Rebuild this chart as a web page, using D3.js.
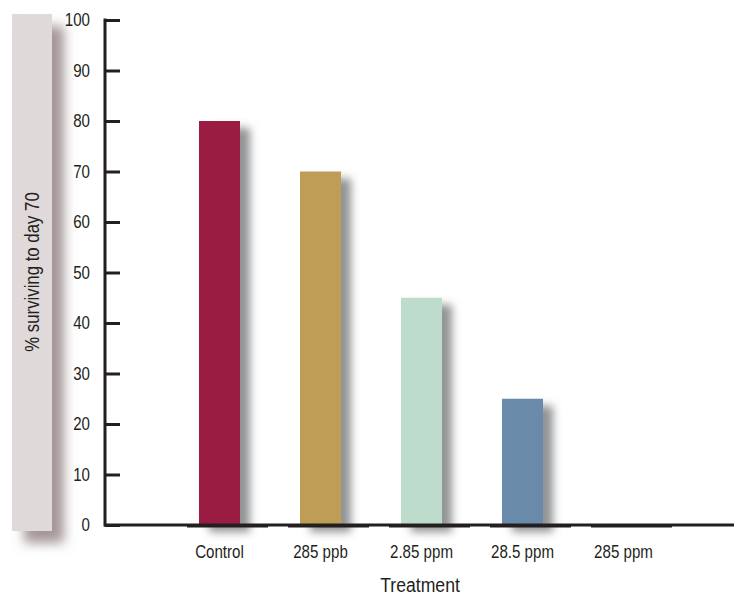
<!DOCTYPE html>
<html><head><meta charset="utf-8">
<script src="https://cdn.jsdelivr.net/npm/d3@7"></script>
<style>
body{margin:0;background:#fff;}
text{font-family:"Liberation Sans","Arial",sans-serif;fill:#231f20;}
</style></head>
<body><svg id="c" width="734" height="596"></svg>
<script>
const categories = ["Control","285 ppb","2.85 ppm","28.5 ppm","285 ppm"];
const values = [80,70,45,25,0];
const colors = ["#9b1c42","#be9d56","#bddccb","#6b8aaa","#6b8aaa"];
const yTicks = [0,10,20,30,40,50,60,70,80,90,100];
const SX = 0.84;

const svg = d3.select("#c");
const defs = svg.append("defs");
const f = defs.append("filter").attr("id","sh").attr("x","-50%").attr("y","-50%").attr("width","250%").attr("height","200%");
f.append("feDropShadow").attr("dx",10).attr("dy",7).attr("stdDeviation",4).attr("flood-color","#6d6e72").attr("flood-opacity",0.75);
const f2 = defs.append("filter").attr("id","sh2").attr("x","-50%").attr("y","-20%").attr("width","250%").attr("height","150%");
f2.append("feDropShadow").attr("dx",12).attr("dy",12).attr("stdDeviation",6).attr("flood-color","#9a8a8a").attr("flood-opacity",0.9);

// y-label panel
svg.append("rect").attr("x",12).attr("y",14).attr("width",40).attr("height",517)
  .attr("fill","#dfd9da").attr("filter","url(#sh2)");
svg.append("text").attr("transform",`translate(39,272) rotate(-90) scale(${SX},1)`)
  .attr("text-anchor","middle").attr("font-size",20).text("% surviving to day 70");

const y = d3.scaleLinear().domain([0,100]).range([525,20]);
const x = d3.scaleBand().domain(categories).range([169,674]).paddingInner(0.594).paddingOuter(0.297);

// bars
svg.append("g").selectAll("rect").data(values).join("rect")
  .attr("x",(d,i)=>x(categories[i])).attr("y",d=>y(d))
  .attr("width",x.bandwidth()).attr("height",d=>y(0)-y(d))
  .attr("fill",(d,i)=>colors[i]).attr("filter","url(#sh)");

// shadow under 285 ppm (zero bar)
svg.append("rect").attr("x",x(categories[4])).attr("y",y(0)-1).attr("width",x.bandwidth()).attr("height",2)
  .attr("fill","#fff").attr("filter","url(#sh)");

// y axis
const yAxis = d3.axisLeft(y).tickValues(yTicks).tickSize(0).tickPadding(15);
const gy = svg.append("g").attr("transform","translate(105,0)").call(yAxis);
gy.select(".domain").remove();
gy.selectAll("text").attr("font-size",18).attr("fill","#231f20").attr("font-family",null)
  .attr("x",-15/SX).attr("transform",`scale(${SX},1)`);
gy.selectAll(".tick").append("line").attr("x1",0).attr("x2",15).attr("stroke","#231f20").attr("stroke-width",3);
svg.append("line").attr("x1",105).attr("x2",105).attr("y1",18.5).attr("y2",526.5).attr("stroke","#231f20").attr("stroke-width",3);

// x axis
svg.append("line").attr("x1",104).attr("x2",734).attr("y1",525).attr("y2",525).attr("stroke","#231f20").attr("stroke-width",3);
svg.append("g").selectAll("rect").data(categories).join("rect")
  .attr("x",d=>x(d)-12).attr("y",524).attr("width",x.bandwidth()+40).attr("height",3.5).attr("fill","#231f20");
const gx = svg.append("g").attr("transform","translate(0,525)")
  .call(d3.axisBottom(x).tickSize(0).tickPadding(20));
gx.select(".domain").remove();
gx.selectAll("text").attr("font-size",18).attr("fill","#231f20").attr("font-family",null)
  .attr("transform",`scale(${SX},1)`);

svg.append("text").attr("transform",`translate(420,592) scale(${SX},1)`).attr("text-anchor","middle").attr("font-size",21).text("Treatment");
</script></body></html>
